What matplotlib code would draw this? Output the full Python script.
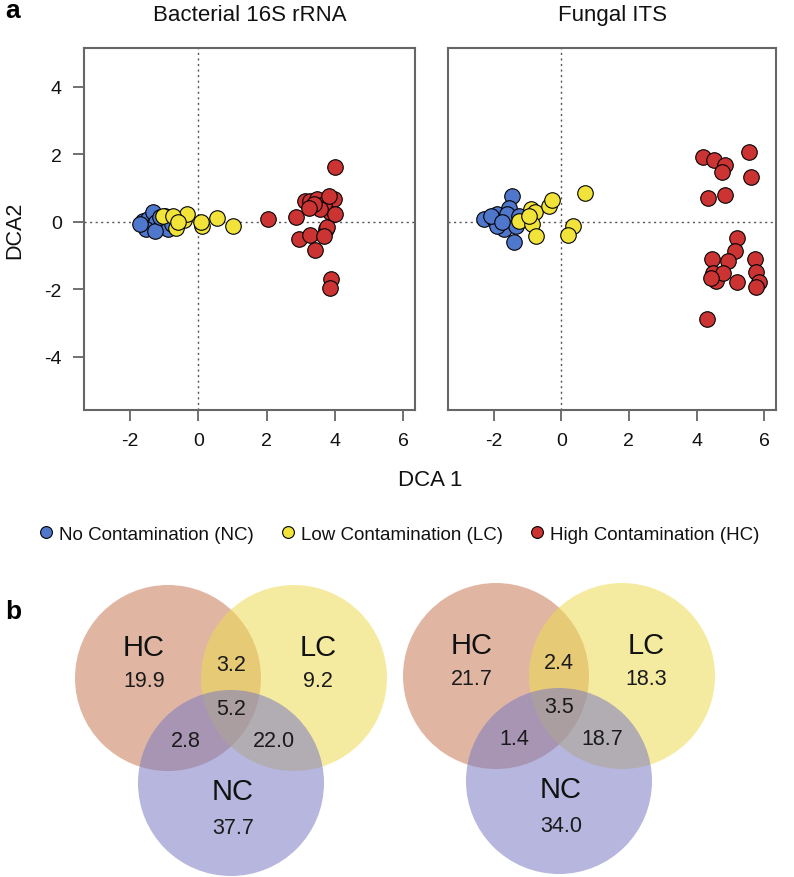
import matplotlib
matplotlib.use('Agg')
import matplotlib.pyplot as plt
from matplotlib.patches import Circle
from matplotlib.lines import Line2D
import numpy as np

plt.rcParams.update({'font.family': ['Liberation Sans', 'DejaVu Sans']})
plt.rcParams.update({'axes.unicode_minus': False})

#%% data

groups = ['No Contamination (NC)', 'Low Contamination (LC)', 'High Contamination (HC)']
colors = ['#4F78CC', '#F2E33A', '#CC3333']

# bacterial 16S rRNA, DCA1 / DCA2
bac_nc_x = [-1.62, -1.47, -1.32, -1.42, -1.23, -1.08, -0.93, -0.88, -1.52, -1.27, -1.72, -1.13, -0.98, -0.78]
bac_nc_y = [0.03, 0.08, 0.28, -0.17, -0.02, -0.12, 0.03, -0.22, -0.22, -0.27, -0.07, 0.13, 0.18, -0.07]
bac_lc_x = [-1.03, -0.66, -0.41, -0.34, 0.10, 0.08, 0.56, 1.03, -0.74, -0.59]
bac_lc_y = [0.16, -0.20, 0.06, 0.23, -0.12, 0.00, 0.10, -0.12, 0.16, -0.02]
bac_hc_x = [2.03, 2.86, 2.94, 3.26, 3.41, 3.73, 3.77, 3.87, 3.97, 4.02, 3.89, 3.85,
            3.14, 3.28, 3.48, 3.68, 3.82, 3.58, 3.38, 3.24, 4.02, 3.68]
bac_hc_y = [0.08, 0.13, -0.51, -0.40, -0.83, -0.22, -0.17, 0.28, 0.67, 1.63, -1.70, -1.95,
            0.62, 0.62, 0.67, 0.52, 0.77, 0.38, 0.52, 0.42, 0.23, -0.42]

# fungal ITS
fun_nc_x = [-2.28, -1.99, -1.89, -1.65, -1.45, -1.55, -1.40, -1.70, -1.89, -1.60, -1.25, -1.35, -2.09, -1.75]
fun_nc_y = [0.08, 0.08, 0.23, 0.08, 0.77, 0.42, -0.61, -0.22, -0.12, 0.23, 0.18, -0.12, 0.18, -0.02]
fun_lc_x = [-1.25, -0.91, -0.79, -0.86, -0.76, -0.37, -0.27, 0.71, 0.36, 0.19, -0.96]
fun_lc_y = [0.03, 0.38, 0.28, -0.07, -0.42, 0.48, 0.65, 0.85, -0.14, -0.40, 0.18]
fun_hc_x = [4.19, 4.53, 4.85, 4.75, 5.54, 5.61, 4.35, 4.85, 5.19, 5.15, 4.92, 4.46,
            4.48, 4.58, 4.77, 5.19, 5.74, 5.75, 5.85, 5.77, 4.30, 4.43]
fun_hc_y = [1.91, 1.84, 1.68, 1.47, 2.08, 1.32, 0.70, 0.79, -0.47, -0.86, -1.16, -1.09,
            -1.51, -1.76, -1.51, -1.80, -1.11, -1.50, -1.80, -1.92, -2.87, -1.66]

# venn percentages: HC only, LC only, NC only, HC&LC, HC&NC, LC&NC, all
venn_bac = [19.9, 9.2, 37.7, 3.2, 2.8, 22.0, 5.2]
venn_fun = [21.7, 18.3, 34.0, 2.4, 1.4, 18.7, 3.5]
venn_sets = ['HC', 'LC', 'NC']
venn_colors = ['#C87B58', '#EEDC52', '#7A7AC3']

#%% figure
W, H = 794, 878
fig = plt.figure(figsize=(W/100, H/100), dpi=100)

def px_axes(x0, y0, x1, y1):
    return fig.add_axes([x0/W, 1-y1/H, (x1-x0)/W, (y1-y0)/H])

ax1 = px_axes(84, 49, 415, 411)
ax2 = px_axes(448, 49, 776, 411)

panels = [(ax1, 'Bacterial 16S rRNA', [(bac_nc_x, bac_nc_y), (bac_lc_x, bac_lc_y), (bac_hc_x, bac_hc_y)]),
          (ax2, 'Fungal ITS', [(fun_nc_x, fun_nc_y), (fun_lc_x, fun_lc_y), (fun_hc_x, fun_hc_y)])]

for ax, title, sets in panels:
    ax.axvline(0, color='#555555', ls=(0, (1.5, 2.5)), lw=1, zorder=1)
    ax.axhline(0, color='#555555', ls=(0, (1.5, 2.5)), lw=1, zorder=1)
    for (xx, yy), c in zip(sets, colors):
        ax.scatter(xx, yy, s=125, c=c, edgecolors='black', linewidths=0.8, zorder=3)
    ax.set_xlim(-3.35, 6.35)
    ax.set_ylim(-5.58, 5.15)
    ax.set_xticks([-2, 0, 2, 4, 6])
    ax.set_yticks([-4, -2, 0, 2, 4])
    for sp in ax.spines.values():
        sp.set_color('#666666')
        sp.set_linewidth(1.5)
    ax.tick_params(length=8, width=1.3, color='#666666', labelsize=14, pad=8, labelcolor='#111111')
    ax.set_title(title, fontsize=16, pad=20, color='#111111')

ax2.tick_params(axis='y', left=False, labelleft=False)
ax1.set_ylabel('DCA2', fontsize=15.5, labelpad=14, color='#111111')
fig.text(430/W, 1-481/H, 'DCA 1', fontsize=16, ha='center', va='center', color='#111111')

fig.text(13/W, 1-11/H, 'a', fontsize=19, fontweight='bold', ha='center', va='center')
fig.text(13/W, 1-612/H, 'b', fontsize=19, fontweight='bold', ha='center', va='center')

# legend
handles = [Line2D([], [], ls='', marker='o', ms=8.5, mfc=c, mec='black', mew=0.8) for c in colors]
fig.legend(handles, groups, loc='center', bbox_to_anchor=(0.5, 1-535/H), ncol=3, frameon=False,
           fontsize=13.5, handletextpad=0.1, columnspacing=1.2, handlelength=1.2,
           labelcolor='#111111')

#%% venn diagrams
axv = px_axes(0, 560, W, H)
axv.set_xlim(0, W)
axv.set_ylim(H, 560)
axv.axis('off')

r = 93
circ_off = [(-63, -36), (63, -36), (0, 69)]
name_off = [(-87, -67), (87, -67), (2, 77)]
val_off = [(-87, -33), (87, -33), (2, 114), (0, -49), (-45, 27), (43, 27), (0, -5)]

for cx, cy, vals in [(231, 715, venn_bac), (559, 713, venn_fun)]:
    for (dx, dy), c in zip(circ_off, venn_colors):
        axv.add_patch(Circle((cx+dx, cy+dy), r, facecolor=c, edgecolor='none', alpha=0.55))
    for (dx, dy), name in zip(name_off, venn_sets):
        axv.text(cx+dx, cy+dy, name, fontsize=21, ha='center', va='center', color='#111111')
    for (dx, dy), v in zip(val_off, vals):
        axv.text(cx+dx, cy+dy, '%.1f' % v, fontsize=15.5, ha='center', va='center', color='#1a1a1a')

plt.savefig('out.png', dpi=100)
